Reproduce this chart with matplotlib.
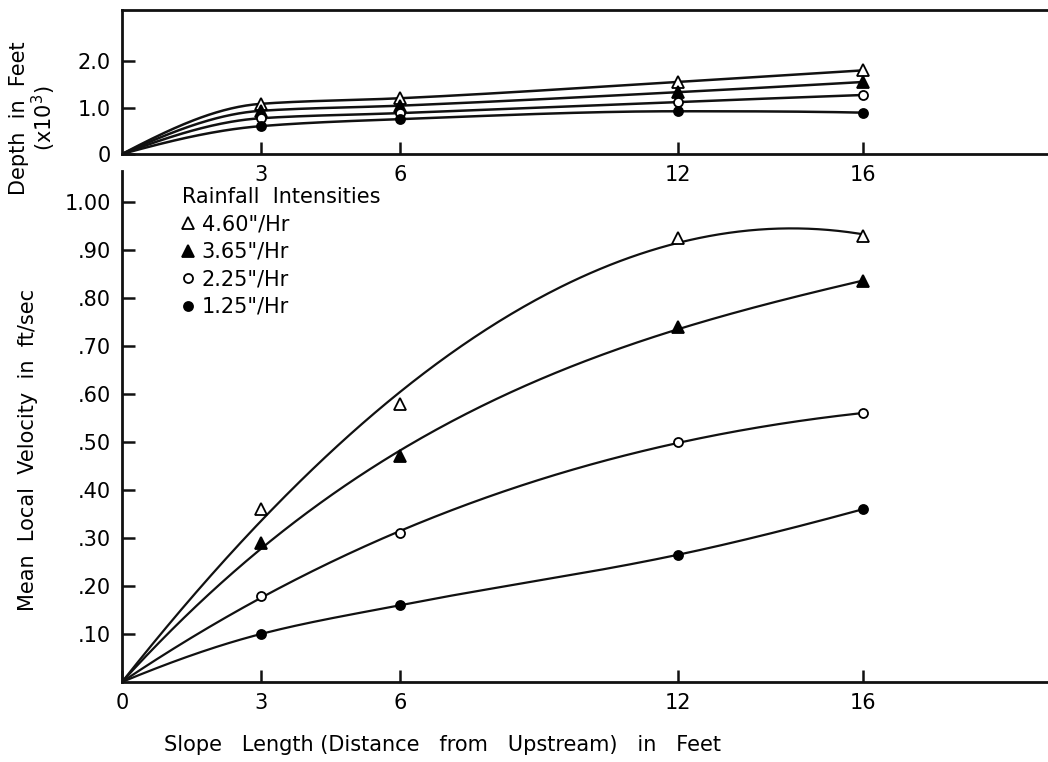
import numpy as np
import matplotlib.pyplot as plt
from matplotlib.lines import Line2D

plt.rcParams['font.family'] = ['DejaVu Sans']

# slope length stations (ft)
stations = [3, 6, 12, 16]
labels = ['4.60"/Hr', '3.65"/Hr', '2.25"/Hr', '1.25"/Hr']

# flow depth, ft x 10^3
depth_460 = [1.08, 1.20, 1.55, 1.80]
depth_365 = [0.93, 1.04, 1.33, 1.55]
depth_225 = [0.77, 0.88, 1.12, 1.27]
depth_125 = [0.60, 0.75, 0.92, 0.89]

# mean local velocity, ft/sec
vel_460 = [0.36, 0.58, 0.925, 0.93]
vel_365 = [0.29, 0.47, 0.74, 0.835]
vel_225 = [0.18, 0.31, 0.50, 0.56]
vel_125 = [0.10, 0.16, 0.265, 0.36]

depths = [depth_460, depth_365, depth_225, depth_125]
vels = [vel_460, vel_365, vel_225, vel_125]
# velocity curves: least-squares cubic through origin, or monotone spline
vel_fit = ['cubic', 'cubic', 'cubic', 'pchip']

markers = [
    dict(marker='^', ms=9, mfc='white', mec='black', mew=1.3),
    dict(marker='^', ms=9, mfc='black', mec='black', mew=1.3),
    dict(marker='o', ms=6.5, mfc='white', mec='black', mew=1.3),
    dict(marker='o', ms=6.5, mfc='black', mec='black', mew=1.3),
]

FS = 15


def pchip(xk, yk, xs):
    xk = np.asarray(xk, float)
    yk = np.asarray(yk, float)
    h = np.diff(xk)
    d = np.diff(yk) / h
    n = len(xk)
    m = np.zeros(n)
    for k in range(1, n - 1):
        if d[k - 1] * d[k] > 0:
            w1 = 2 * h[k] + h[k - 1]
            w2 = h[k] + 2 * h[k - 1]
            m[k] = (w1 + w2) / (w1 / d[k - 1] + w2 / d[k])

    def end(h0, h1, d0, d1):
        s = ((2 * h0 + h1) * d0 - h0 * d1) / (h0 + h1)
        if np.sign(s) != np.sign(d0):
            return 0.0
        if np.sign(d0) != np.sign(d1) and abs(s) > abs(3 * d0):
            return 3 * d0
        return s

    m[0] = end(h[0], h[1], d[0], d[1])
    m[-1] = end(h[-1], h[-2], d[-1], d[-2])
    idx = np.clip(np.searchsorted(xk, xs) - 1, 0, n - 2)
    t = (xs - xk[idx]) / h[idx]
    h00 = 2 * t**3 - 3 * t**2 + 1
    h10 = t**3 - 2 * t**2 + t
    h01 = -2 * t**3 + 3 * t**2
    h11 = t**3 - t**2
    return (h00 * yk[idx] + h10 * h[idx] * m[idx]
            + h01 * yk[idx + 1] + h11 * h[idx] * m[idx + 1])


def cubic_through_origin(x, y, xs):
    x = np.asarray(x, float)
    A = np.column_stack([x, x**2, x**3])
    c, *_ = np.linalg.lstsq(A, np.asarray(y, float), rcond=None)
    return c[0] * xs + c[1] * xs**2 + c[2] * xs**3


xs = np.linspace(0, 16, 300)

fig = plt.figure(figsize=(10.48, 7.62), dpi=100)
ax2 = fig.add_axes([0.1164, 0.105, 0.8836, 0.6706])
ax1 = fig.add_axes([0.1164, 0.7979, 0.8836, 0.189])
ax2.patch.set_visible(False)

# depth panel
for y, mk in zip(depths, markers):
    ax1.plot(xs, pchip([0] + stations, [0] + y, xs), color='#111111', lw=1.8, zorder=2)
    ax1.plot(stations, y, ls='none', zorder=3, **mk)

ax1.set_xlim(0, 20)
ax1.set_ylim(0, 3.1)
ax1.set_xticks(stations)
ax1.set_xticklabels(['3', '6', '12', '16'])
ax1.set_yticks([0, 1, 2])
ax1.set_yticklabels(['0', '1.0', '2.0'])
ax1.spines['right'].set_visible(False)

# velocity panel
for y, mk, fit in zip(vels, markers, vel_fit):
    if fit == 'cubic':
        curve = cubic_through_origin(stations, y, xs)
    else:
        curve = pchip([0] + stations, [0] + y, xs)
    ax2.plot(xs, curve, color='#111111', lw=1.6, zorder=2)
    ax2.plot(stations, y, ls='none', zorder=3, **mk)

ax2.set_xlim(0, 20)
ax2.set_ylim(0, 1.065)
ax2.set_xticks([0] + stations)
ax2.set_xticklabels(['0', '3', '6', '12', '16'])
ax2.set_yticks(np.arange(1, 11) / 10)
ax2.set_yticklabels(['.10', '.20', '.30', '.40', '.50', '.60', '.70', '.80', '.90', '1.00'])
ax2.spines['right'].set_visible(False)
ax2.spines['top'].set_visible(False)

for ax in (ax1, ax2):
    for s in ax.spines.values():
        s.set_linewidth(2.0)
        s.set_color('#111111')
    ax.tick_params(direction='in', length=9, width=1.8, labelsize=FS, color='#111111')
    ax.tick_params(axis='x', pad=8)
    ax.tick_params(axis='y', pad=8)

handles = [Line2D([], [], ls='none', **mk) for mk in markers]
leg = ax2.legend(handles, labels, title='Rainfall  Intensities', loc='upper left',
                 bbox_to_anchor=(0.0555, 0.985), frameon=False, fontsize=FS,
                 title_fontsize=FS, handlelength=0.6, handletextpad=0.35,
                 labelspacing=0.36, alignment='left', borderaxespad=0)

fig.text(0.027, 0.41, 'Mean  Local  Velocity  in  ft/sec', rotation=90,
         ha='center', va='center', fontsize=FS)
fig.text(0.032, 0.845, 'Depth  in  Feet\n(x10$^3$)', rotation=90,
         ha='center', va='center', fontsize=FS, linespacing=1.0)
fig.text(0.422, 0.022, 'Slope   Length (Distance   from   Upstream)   in   Feet',
         ha='center', va='center', fontsize=FS)

fig.savefig('out.png', dpi=100, facecolor='white')
